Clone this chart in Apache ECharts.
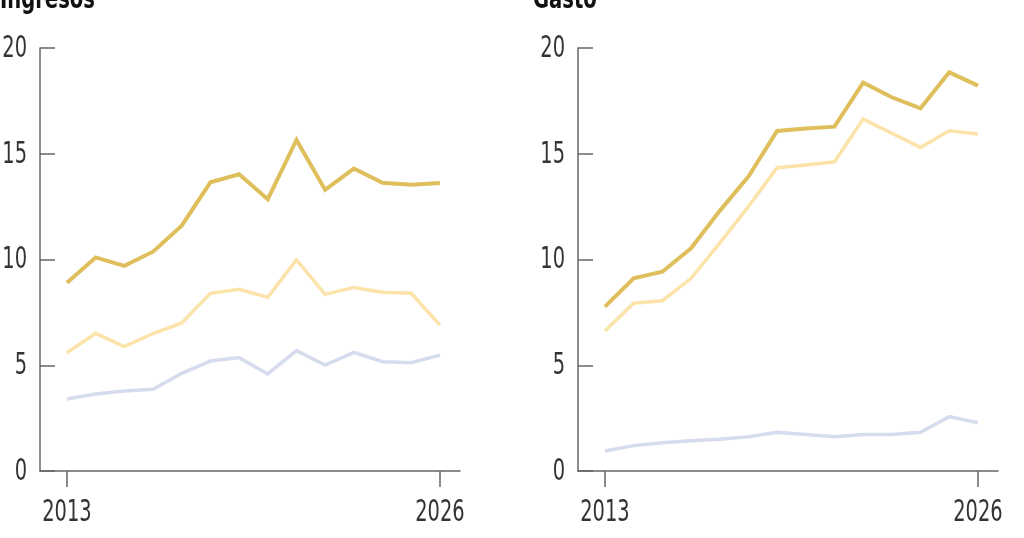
<!DOCTYPE html>
<html>
<head>
<meta charset="utf-8">
<script src="https://cdn.jsdelivr.net/npm/echarts@6/dist/echarts.min.js"></script>
<style>
html,body{margin:0;padding:0;background:#fff;}
#c{width:1024px;height:538px;}
</style>
</head>
<body>
<div id="c"></div>
<script>
const years = [2013,2014,2015,2016,2017,2018,2019,2020,2021,2022,2023,2024,2025,2026];
const xTickYears = [2013, 2026];
const yTicks = [0, 5, 10, 15, 20];
const panelTitles = ['Ingresos', 'Gasto'];

// Ingresos
const ingresosDark  = [8.9, 10.1, 9.7, 10.37, 11.6, 13.65, 14.03, 12.85, 15.65, 13.29, 14.3, 13.63, 13.54, 13.62];
const ingresosLight = [5.59, 6.51, 5.88, 6.5, 7.0, 8.4, 8.59, 8.21, 9.98, 8.35, 8.68, 8.45, 8.4, 6.9];
const ingresosBlue  = [3.4, 3.64, 3.78, 3.86, 4.62, 5.2, 5.36, 4.59, 5.69, 5.01, 5.61, 5.17, 5.12, 5.48];

// Gasto
const gastoDark  = [7.77, 9.11, 9.42, 10.53, 12.3, 13.92, 16.08, 16.19, 16.28, 18.36, 17.67, 17.15, 18.85, 18.22];
const gastoLight = [6.62, 7.93, 8.05, 9.11, 10.77, 12.5, 14.34, 14.47, 14.62, 16.64, 15.97, 15.3, 16.09, 15.93];
const gastoBlue  = [0.95, 1.2, 1.34, 1.43, 1.5, 1.62, 1.83, 1.73, 1.62, 1.73, 1.73, 1.83, 2.57, 2.28];

const FONT = '"DejaVu Sans Condensed", "Liberation Sans Narrow", "Liberation Sans", sans-serif';
const AX = '#666';
const C_DARK = '#dfbe5c';
const C_LIGHT = '#fbe3a9';
const C_BLUE = '#d6dcee';
const NARROW = 0.72;

function pairs(vals){ return years.map((y,i)=>[y, vals[i]]); }

function xAxis(gi){
  return {
    type:'value', gridIndex:gi, min:2012.06, max:2026.70,
    axisLine:{show:true, lineStyle:{color:AX, width:1.5}},
    axisTick:{show:true, length:16, lineStyle:{color:AX, width:1.5}, customValues:xTickYears},
    axisLabel:{show:false},
    splitLine:{show:false}
  };
}
function yAxis(gi){
  return {
    type:'value', gridIndex:gi, min:0, max:20, interval:5,
    axisLine:{show:true, lineStyle:{color:AX, width:1.5}},
    axisTick:{show:true, inside:true, length:15, lineStyle:{color:AX, width:1.5}},
    axisLabel:{show:false},
    splitLine:{show:false}
  };
}
function line(gi, vals, color, w, z){
  return {type:'line', xAxisIndex:gi, yAxisIndex:gi, data:pairs(vals), symbol:'none',
    lineStyle:{color:color, width:w, join:'miter'}, z:z, silent:true, animation:false};
}

const chart = echarts.init(document.getElementById('c'), null, {renderer:'canvas'});
chart.setOption({
  animation:false,
  backgroundColor:'#fff',
  grid:[
    {left:40, top:48, width:420, height:423, outerBoundsMode:'none', containLabel:false},
    {left:578, top:48, width:420, height:423, outerBoundsMode:'none', containLabel:false}
  ],
  xAxis:[xAxis(0), xAxis(1)],
  yAxis:[yAxis(0), yAxis(1)],
  series:[
    line(0, ingresosBlue, C_BLUE, 3.5, 2),
    line(0, ingresosLight, C_LIGHT, 3.5, 3),
    line(0, ingresosDark, C_DARK, 4, 4),
    line(1, gastoBlue, C_BLUE, 3.5, 2),
    line(1, gastoLight, C_LIGHT, 3.5, 3),
    line(1, gastoDark, C_DARK, 4, 4)
  ]
});

// Narrow (condensed) tick labels and titles placed via the library's own scales
const gfx = [];
const gridLefts = [40, 578];
[0,1].forEach(gi => {
  const x0 = chart.convertToPixel({gridIndex:gi}, [2013, 0]);
  yTicks.forEach(v => {
    const p = chart.convertToPixel({gridIndex:gi}, [2012.06, v]);
    gfx.push({type:'text', x:p[0]-13, y:p[1]+1, scaleX:NARROW, silent:true,
      style:{text:String(v), font:'30px '+FONT, fill:'#333', align:'right', verticalAlign:'middle'}});
  });
  xTickYears.forEach(yr => {
    const p = chart.convertToPixel({gridIndex:gi}, [yr, 0]);
    gfx.push({type:'text', x:p[0], y:p[1]+27, scaleX:NARROW, silent:true,
      style:{text:String(yr), font:'30px '+FONT, fill:'#333', align:'center', verticalAlign:'top'}});
  });
});
gfx.push({type:'text', x:0, y:-14, scaleX:0.75, silent:true,
  style:{text:panelTitles[0], font:'bold 29px '+FONT, fill:'#111', align:'left', verticalAlign:'top'}});
gfx.push({type:'text', x:533, y:-14, scaleX:0.75, silent:true,
  style:{text:panelTitles[1], font:'bold 29px '+FONT, fill:'#111', align:'left', verticalAlign:'top'}});
chart.setOption({graphic:gfx});
</script>
</body>
</html>
